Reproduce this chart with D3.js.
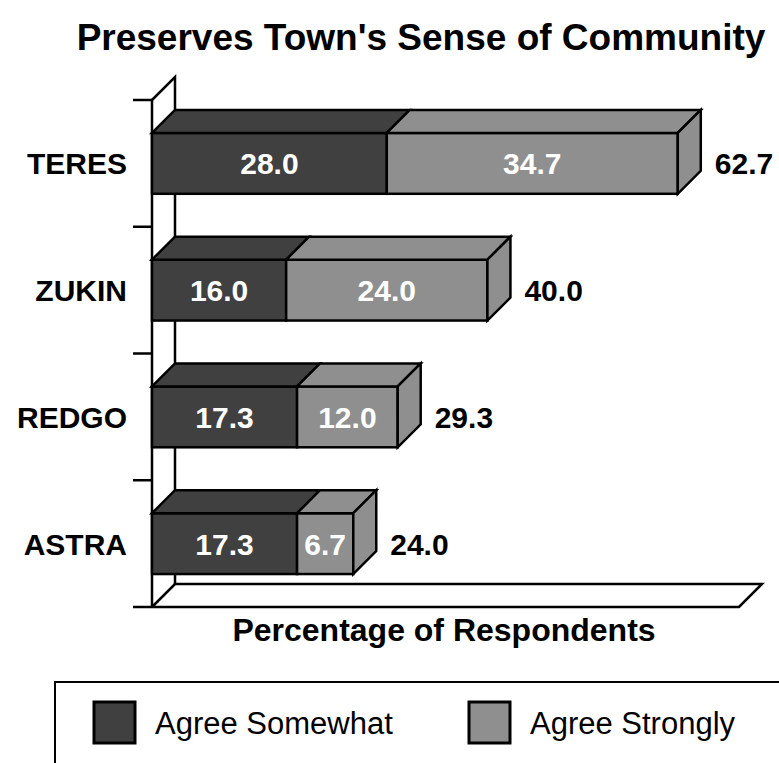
<!DOCTYPE html>
<html>
<head>
<meta charset="utf-8">
<script src="https://cdn.jsdelivr.net/npm/d3@7"></script>
<style>
  body { margin: 0; background: #fff; }
  text { font-family: "Liberation Sans", Arial, Helvetica, sans-serif; }
</style>
</head>
<body>
<div id="chart"></div>
<script>
// data
var categories = ["TERES", "ZUKIN", "REDGO", "ASTRA"];
var agreeSomewhat = [28.0, 16.0, 17.3, 17.3];
var agreeStrongly = [34.7, 24.0, 12.0, 6.7];
var totals = [62.7, 40.0, 29.3, 24.0];
var seriesNames = ["Agree Somewhat", "Agree Strongly"];
var seriesColors = ["#404040", "#8f8f8f"];

var W = 779, H = 763;
var DEPTH = 23; // 3d offset, goes right and up
var xMax = 70;

var svg = d3.select("#chart").append("svg")
    .attr("width", W)
    .attr("height", H);

var x = d3.scaleLinear().domain([0, xMax]).range([152, 739]);
var y = d3.scaleBand().domain(categories)
    .range([100, 607])
    .paddingInner(0.52)
    .paddingOuter(0.26);

var y0 = y.range()[0], y1 = y.range()[1];
var stroke = "#000", sw = 2.5;

// title
svg.append("text")
    .attr("x", 421).attr("y", 50)
    .attr("text-anchor", "middle")
    .attr("font-size", 37).attr("font-weight", "bold")
    .text("Preserves Town's Sense of Community");

// left wall + floor (drawn first, bars sit on top)
var g = svg.append("g").attr("fill", "none").attr("stroke", stroke).attr("stroke-width", sw)
    .attr("stroke-linejoin", "miter");

g.append("path").attr("d", d3.line()([
    [x(0), y0], [x(0) + DEPTH, y0 - DEPTH], [x(0) + DEPTH, y1 - DEPTH]
]));
g.append("path").attr("fill", "#fff").attr("d", d3.line()([
    [x(0), y1], [x(0) + DEPTH, y1 - DEPTH], [x(xMax) + DEPTH, y1 - DEPTH], [x(xMax), y1], [x(0), y1]
]));
g.append("line").attr("x1", x(0)).attr("x2", x(0)).attr("y1", y0).attr("y2", y1);

// ticks at band edges
var edges = d3.range(categories.length + 1).map(function(i) { return y0 + y.step() * i; });
g.selectAll("line.tick").data(edges).enter().append("line")
    .attr("class", "tick")
    .attr("x1", x(0) - 19).attr("x2", x(0))
    .attr("y1", function(d) { return d; }).attr("y2", function(d) { return d; });

// bars
var bars = svg.append("g").attr("stroke", stroke).attr("stroke-width", sw).attr("stroke-linejoin", "miter");

categories.forEach(function(cat, i) {
    var segs = [[0, agreeSomewhat[i]], [agreeSomewhat[i], totals[i]]];
    var top = y(cat), h = y.bandwidth();
    segs.forEach(function(s, k) {
        var a = x(s[0]), b = x(s[1]);
        bars.append("rect")
            .attr("x", a).attr("y", top).attr("width", b - a).attr("height", h)
            .attr("fill", seriesColors[k]);
        bars.append("path")
            .attr("fill", seriesColors[k])
            .attr("d", d3.line()([[a, top], [a + DEPTH, top - DEPTH], [b + DEPTH, top - DEPTH], [b, top]]) + "Z");
        if (k == segs.length - 1) {
            bars.append("path")
                .attr("fill", seriesColors[k])
                .attr("d", d3.line()([[b, top], [b + DEPTH, top - DEPTH], [b + DEPTH, top + h - DEPTH], [b, top + h]]) + "Z");
        }
        // value inside segment
        svg.append("text")
            .attr("x", (a + b) / 2).attr("y", top + h / 2 + 11)
            .attr("text-anchor", "middle")
            .attr("font-size", 30).attr("font-weight", "bold")
            .attr("fill", "#fff")
            .text(k == 0 ? agreeSomewhat[i].toFixed(1) : agreeStrongly[i].toFixed(1));
    });
    // total to the right
    svg.append("text")
        .attr("x", x(totals[i]) + DEPTH + 14).attr("y", top + h / 2 + 11)
        .attr("font-size", 30).attr("font-weight", "bold")
        .text(totals[i].toFixed(1));
    // category label
    svg.append("text")
        .attr("x", 127).attr("y", top + h / 2 + 11)
        .attr("text-anchor", "end")
        .attr("font-size", 30).attr("font-weight", "bold")
        .text(cat);
});

// axis title
svg.append("text")
    .attr("x", 444).attr("y", 641)
    .attr("text-anchor", "middle")
    .attr("font-size", 32).attr("font-weight", "bold")
    .text("Percentage of Respondents");

// legend, box runs off the page at right/bottom
var leg = svg.append("g");
leg.append("rect")
    .attr("x", 55).attr("y", 682).attr("width", 800).attr("height", 200)
    .attr("fill", "none").attr("stroke", stroke).attr("stroke-width", 2);
var legX = [94, 469];
seriesNames.forEach(function(name, k) {
    leg.append("rect")
        .attr("x", legX[k]).attr("y", 702).attr("width", 41).attr("height", 41)
        .attr("fill", seriesColors[k]).attr("stroke", stroke).attr("stroke-width", 3);
    leg.append("text")
        .attr("x", legX[k] + 61).attr("y", 734)
        .attr("font-size", 31)
        .text(name);
});
</script>
</body>
</html>
